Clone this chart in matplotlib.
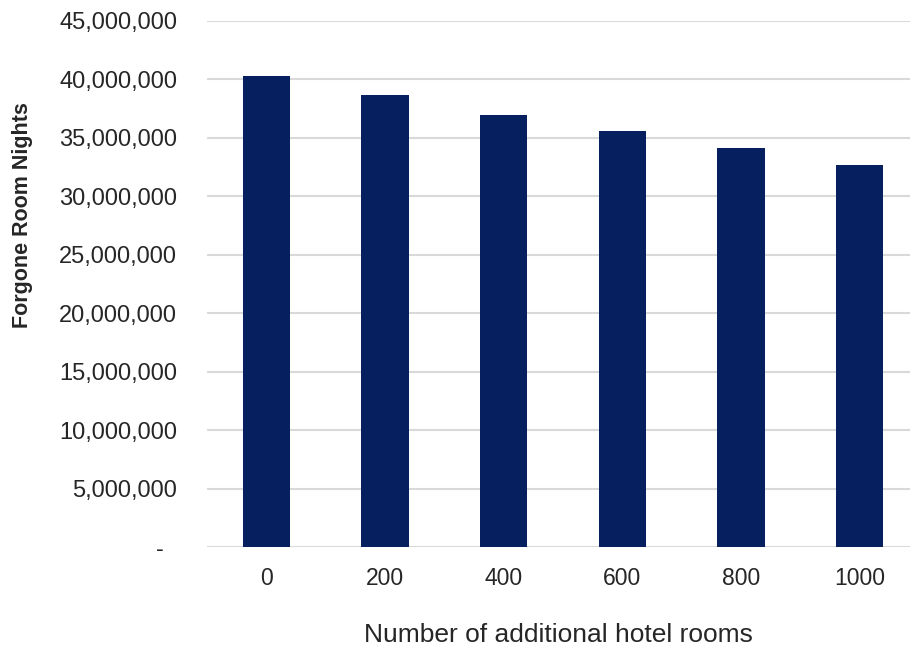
import matplotlib
matplotlib.use("Agg")
import matplotlib.pyplot as plt
from matplotlib.ticker import FuncFormatter

# Forgone room nights by number of additional hotel rooms
rooms = ["0", "200", "400", "600", "800", "1000"]
forgone_nights = [40_300_000, 38_700_000, 37_000_000, 35_600_000, 34_100_000, 32_700_000]
y_ticks = [0, 5_000_000, 10_000_000, 15_000_000, 20_000_000, 25_000_000,
           30_000_000, 35_000_000, 40_000_000, 45_000_000]

plt.rcParams["font.family"] = ["Liberation Sans", "DejaVu Sans"]

W, H = 910, 649
fig = plt.figure(figsize=(W / 100, H / 100), dpi=100)
left, right = 207 / W, 1.0
bottom, top = 1 - 547.3 / H, 1 - 21 / H
ax = fig.add_axes([left, bottom, right - left, top - bottom])

x = list(range(len(rooms)))
ax.bar(x, forgone_nights, width=0.4, color="#06205f", zorder=3)

ax.set_xlim(-0.5, (W - 266) / 118.7)
ax.set_ylim(0, 45_000_000)
ax.set_yticks(y_ticks)


def fmt(v, pos):
    if v == 0:
        return "-  "
    return f"{int(v):,}"


ax.yaxis.set_major_formatter(FuncFormatter(fmt))
ax.set_xticks(x)
ax.set_xticklabels(rooms)

ax.grid(axis="y", color="#d9d9d9", linewidth=1.5, zorder=0)
for s in ax.spines.values():
    s.set_visible(False)
ax.tick_params(axis="both", length=0, colors="#262626")
ax.tick_params(axis="y", labelsize=17, pad=21.5)
ax.tick_params(axis="x", labelsize=16.5, pad=14)

ax.set_xlabel("Number of additional hotel rooms", fontsize=19, color="#262626", labelpad=24)
fig.text(23 / W, 1 - 215 / H, "Forgone Room Nights", rotation=90, ha="center", va="center",
         fontsize=15.5, fontweight="bold", color="#262626")

fig.savefig("out.png", dpi=100)
